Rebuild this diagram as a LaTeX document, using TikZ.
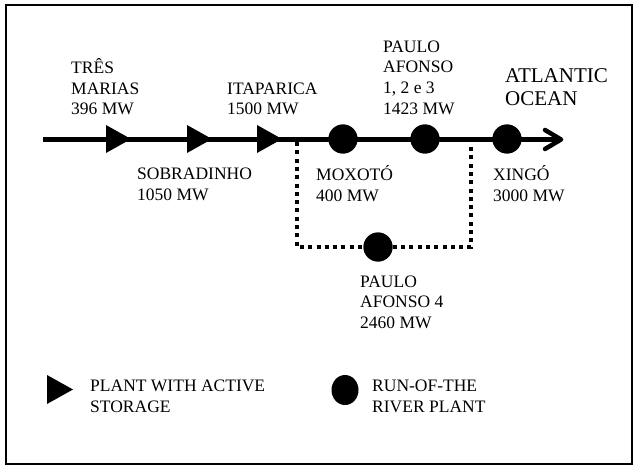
\documentclass[tikz,border=0pt]{standalone}
\usepackage{fontspec}
\setmainfont{Liberation Serif}
\usetikzlibrary{shapes.geometric}
\begin{document}
\begin{tikzpicture}[x=1pt,y=-1pt]
\tikzset{
  lbl/.style={anchor=base west, align=left, inner sep=0pt, font=\fontsize{17.5}{20.5}\selectfont},
  big/.style={anchor=base west, align=left, inner sep=0pt, font=\fontsize{21}{23}\selectfont},
  ror/.style={circle, fill=black, inner sep=0pt, minimum size=29pt},
  dots/.style={line width=4pt, dash pattern=on 4pt off 4.3pt},
  river/.style={line width=5pt},
  frame/.style={line width=1.5pt}
}
\useasboundingbox (0,0) rectangle (634,468);
\draw[frame] (6,5) rectangle (632,464);

% named points on the river
\coordinate (src) at (43,139);
\coordinate (sea) at (560,139);
\coordinate (dl) at (297,142);
\coordinate (dr) at (471,147);

% run-of-the-river plants
\node[ror] (mox) at (343,139) {};
\node[ror] (pa) at (425,139) {};
\node[ror] (xin) at (507,139) {};
\node[ror] (pa4) at (378,247) {};

% bypass (dotted)
\draw[dots] (dl) |- (pa4);
\draw[dots] (pa4) -| (dr);

% main river
\draw[river] (src) -- (sea);
\draw[line width=4.5pt, line join=round, line cap=round] (545,130) -- (561,139.5) -- (545,149);

% circles again on top
\node[ror] at (mox) {};
\node[ror] at (pa) {};
\node[ror] at (xin) {};
\node[ror] at (pa4) {};

% storage plants (triangles)
\coordinate (tm) at (106,139);
\coordinate (so) at (187,139);
\coordinate (it) at (257,139);
\foreach \p in {tm,so,it}{
  \fill (\p) ++(0,-14) -- ++(25,14) -- ++(-25,14) -- cycle;
}

% labels (anchored at the baseline of the last line)
\node[lbl] (ltm) at (71,115) {TRÊS\\MARIAS\\396 MW};
\node[lbl] (lit) at (227,115) {ITAPARICA\\1500 MW};
\node[lbl] (lpa) at (383,114) {PAULO\\AFONSO\\1, 2 e 3\\1423 MW};
\node[big] (lsea) at (505,106) {ATLANTIC\\OCEAN};
\node[lbl] (lso) at (137,200) {SOBRADINHO\\1050 MW};
\node[lbl] (lmox) at (316,201) {MOXOTÓ\\400 MW};
\node[lbl] (lxin) at (493,201) {XINGÓ\\3000 MW};
\node[lbl] (lpa4) at (360,328) {PAULO\\AFONSO 4\\2460 MW};

% legend
\coordinate (legt) at (47,375);
\fill (legt) -- ++(26,14.5) -- ++(-26,14.5) -- cycle;
\node[lbl] (lst) at (90,412) {PLANT WITH ACTIVE\\STORAGE};
\node[ellipse, fill=black, inner sep=0pt, minimum width=27pt, minimum height=30pt] (legc) at (345,390) {};
\node[lbl] (lror) at (372,412) {RUN-OF-THE\\RIVER PLANT};
\end{tikzpicture}
\end{document}
